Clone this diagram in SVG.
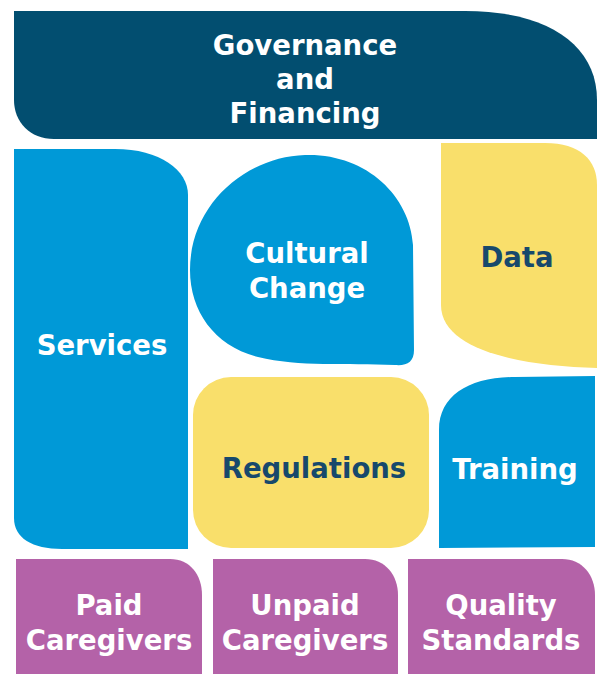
<svg xmlns="http://www.w3.org/2000/svg" width="603" height="674" viewBox="0 0 603 674">
  <style>
    .navy { fill: #024e70; }
    .blue { fill: #0099d7; }
    .yellow { fill: #f9df6b; }
    .purple { fill: #b462a8; }
    text { font-family: "DejaVu Sans", "Liberation Sans", sans-serif; font-weight: bold; font-size: 27.5px; text-anchor: middle; }
    .light { fill: #ffffff; }
    .dark { fill: #17496c; }
  </style>
  <rect width="603" height="674" fill="#ffffff"/>

  <g id="governance">
    <path class="navy" d="M14,11 L465,11 C548,11 597,45 597,100 L597,139 L54,139 C30,139 14,122 14,100 Z"/>
    <text class="light" x="305" y="55">Governance</text>
    <text class="light" x="305" y="89">and</text>
    <text class="light" x="305" y="123">Financing</text>
  </g>

  <g id="services">
    <path class="blue" d="M14,149 L115,149 C160,149 188,170 188,195 L188,549 L62,549 C32,549 14,538 14,518 Z"/>
    <text class="light" x="102" y="355">Services</text>
  </g>

  <g id="cultural-change">
    <path class="blue" d="M305,155 C365,153 410,195 413,245 L414,350 C414,362 407,366 395,365 C345,363 300,367 258,357 C215,346 190,312 190,270 C190,205 245,157 305,155 Z"/>
    <text class="light" x="307" y="263">Cultural</text>
    <text class="light" x="307" y="298">Change</text>
  </g>

  <g id="data">
    <path class="yellow" d="M441,143 L545,143 C580,143 597,160 597,185 L597,368 C520,366 441,350 441,305 Z"/>
    <text class="dark" x="517" y="267">Data</text>
  </g>

  <g id="regulations">
    <rect class="yellow" x="193" y="377" width="236" height="171" rx="38" ry="38"/>
    <text class="dark" x="314" y="478">Regulations</text>
  </g>

  <g id="training">
    <path class="blue" d="M439,430 C439,395 470,377 515,377 L595,376 L595,547 L439,548 Z"/>
    <text class="light" x="515" y="479">Training</text>
  </g>

  <g id="paid-caregivers">
    <path class="purple" d="M16,559 L170,559 C190,559 202,575 202,595 L202,674 L16,674 Z"/>
    <text class="light" x="109" y="615">Paid</text>
    <text class="light" x="109" y="650">Caregivers</text>
  </g>

  <g id="unpaid-caregivers">
    <path class="purple" d="M213,559 L365,559 C385,559 398,575 398,595 L398,674 L213,674 Z"/>
    <text class="light" x="305" y="615">Unpaid</text>
    <text class="light" x="305" y="650">Caregivers</text>
  </g>

  <g id="quality-standards">
    <path class="purple" d="M408,559 L562,559 C582,559 595,575 595,595 L595,674 L408,674 Z"/>
    <text class="light" x="501" y="615">Quality</text>
    <text class="light" x="501" y="650">Standards</text>
  </g>

  <g id="connectors"/>
</svg>
